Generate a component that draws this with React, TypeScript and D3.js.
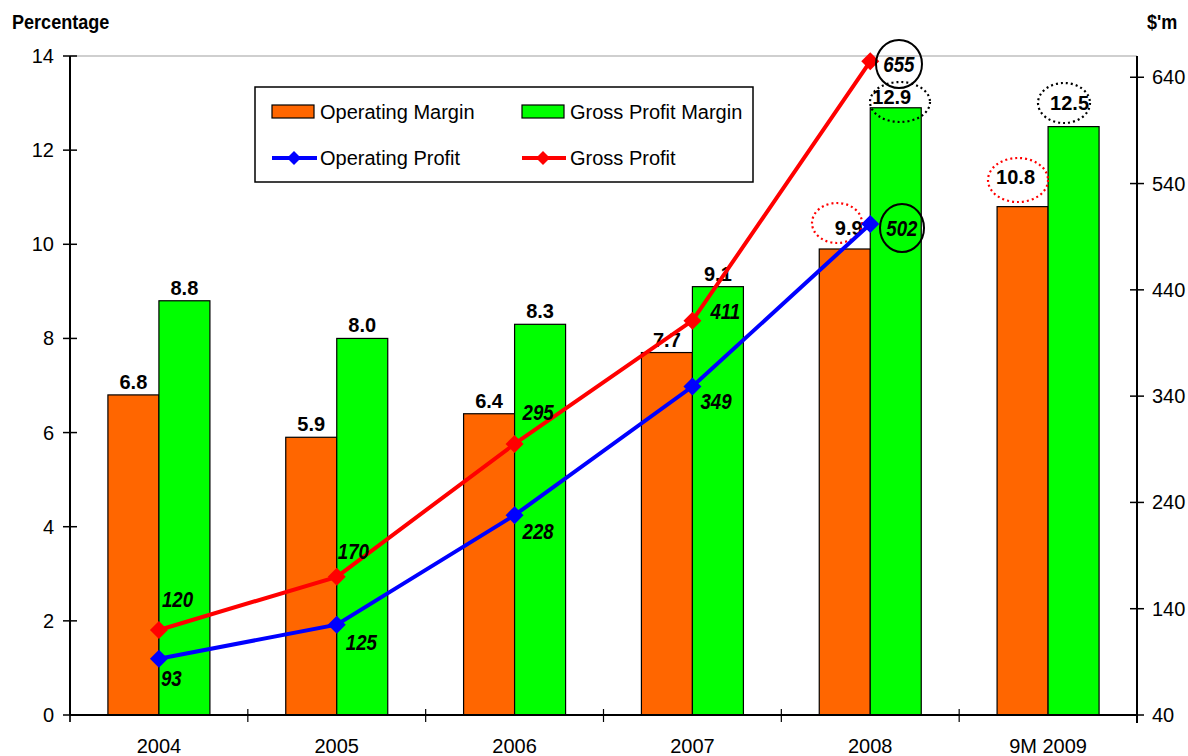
import React from "react";
import * as d3 from "d3";

const categories = ["2004", "2005", "2006", "2007", "2008", "9M 2009"];
const operatingMargin = [6.8, 5.9, 6.4, 7.7, 9.9, 10.8];
const grossProfitMargin = [8.8, 8.0, 8.3, 9.1, 12.9, 12.5];
const operatingProfit = [93, 125, 228, 349, 502];
const grossProfit = [120, 170, 295, 411, 655];
const leftTicks = [0, 2, 4, 6, 8, 10, 12, 14];
const rightTicks = [40, 140, 240, 340, 440, 540, 640];

// label offsets (dx, dy) relative to point
const gpLabelOff = [[3, -23], [1, -18], [8, -24], [18, -2], [13, 11]];
const opLabelOff = [[2, 27], [9, 25], [8, 24], [8, 22], [16, 12]];

const W = 1188, H = 756;
const X0 = 70, X1 = 1137, Y0 = 715, Y1 = 56;
const FONT = "'Liberation Sans', Arial, Helvetica, sans-serif";

function CText(props: { x: number; y: number; sx?: number; children: any; [k: string]: any }) {
  const { x, y, sx = 1, children, ...rest } = props;
  return (
    <text transform={`translate(${x},${y}) scale(${sx},1)`} {...rest}>{children}</text>
  );
}

export default function App() {
  const x = d3.scaleBand<string>().domain(categories).range([X0, X1]).paddingInner(0).paddingOuter(0);
  const yL = d3.scaleLinear().domain([0, 14]).range([Y0, Y1]);
  const yR = d3.scaleLinear().domain([40, 660]).range([Y0, Y1]);
  const bw = 51;
  const cx = (i: number) => (x(categories[i]) as number) + x.bandwidth() / 2;

  const line = d3.line<number>().x((_, i) => cx(i)).y((d) => yR(d));
  const diamond = (px: number, py: number, r = 9) =>
    `M${px},${py - r}L${px + r},${py}L${px},${py + r}L${px - r},${py}Z`;

  const gpmLabelY = (i: number) => {
    if (i === 4) return yL(grossProfitMargin[i]) - 4;
    if (i === 5) return yL(grossProfitMargin[i]) - 17;
    return yL(grossProfitMargin[i]) - 6;
  };
  const omLabelY = (i: number) => {
    if (i === 4) return yL(operatingMargin[i]) - 14;
    if (i === 5) return yL(operatingMargin[i]) - 23;
    return yL(operatingMargin[i]) - 6;
  };
  const omLabelX = (i: number) => {
    const base = cx(i) - bw / 2;
    if (i === 4) return base + 4;
    if (i === 5) return base - 7;
    return base;
  };

  return (
    <svg width={W} height={H} style={{ display: "block", position: "absolute", left: 0, top: 0 }} fontFamily={FONT}>
      <rect x={0} y={0} width={W} height={H} fill="#fff" />
      <line x1={X0} x2={X1} y1={Y1} y2={Y1} stroke="#a0a0a0" strokeWidth={1.2} />

      {categories.map((c, i) => (
        <g key={c}>
          <rect x={cx(i) - bw} y={yL(operatingMargin[i])} width={bw} height={Y0 - yL(operatingMargin[i])}
            fill="#FF6600" stroke="#000" strokeWidth={1.2} />
          <rect x={cx(i)} y={yL(grossProfitMargin[i])} width={bw} height={Y0 - yL(grossProfitMargin[i])}
            fill="#00FF00" stroke="#000" strokeWidth={1.2} />
        </g>
      ))}

      {categories.map((c, i) => (
        <g key={"l" + c} fontWeight="bold" fontSize={20} textAnchor="middle" fill="#000">
          <text x={omLabelX(i)} y={omLabelY(i)}>{operatingMargin[i].toFixed(1)}</text>
          <text x={cx(i) + bw / 2 + (i >= 4 ? -4 : 0)} y={gpmLabelY(i)}>{grossProfitMargin[i].toFixed(1)}</text>
        </g>
      ))}

      <ellipse cx={900} cy={102} rx={30} ry={20} fill="none" stroke="#000" strokeWidth={2.2} strokeDasharray="2 3" />
      <ellipse cx={1064} cy={103} rx={26} ry={20} fill="none" stroke="#000" strokeWidth={2.2} strokeDasharray="2 3" />
      <ellipse cx={837} cy={223} rx={25} ry={20} fill="none" stroke="#f00" strokeWidth={2.2} strokeDasharray="2 3" />
      <ellipse cx={1018} cy={180} rx={30} ry={22} fill="none" stroke="#f00" strokeWidth={2.2} strokeDasharray="2 3" />

      <path d={line(operatingProfit) || ""} fill="none" stroke="#0000FF" strokeWidth={4} />
      <path d={line(grossProfit) || ""} fill="none" stroke="#FF0000" strokeWidth={4} />
      {operatingProfit.map((v, i) => (
        <path key={"op" + i} d={diamond(cx(i), yR(v))} fill="#0000FF" />
      ))}
      {grossProfit.map((v, i) => (
        <path key={"gp" + i} d={diamond(cx(i), yR(v))} fill="#FF0000" />
      ))}

      <ellipse cx={899} cy={64} rx={23} ry={24} fill="none" stroke="#000" strokeWidth={2} />
      <ellipse cx={902} cy={228} rx={22} ry={24} fill="none" stroke="#000" strokeWidth={2} />

      <g fontWeight="bold" fontStyle="italic" fontSize={22} fill="#000">
        {grossProfit.map((v, i) => (
          <CText key={"gpl" + i} sx={0.85} x={cx(i) + gpLabelOff[i][0]} y={yR(v) + gpLabelOff[i][1]}>{v}</CText>
        ))}
        {operatingProfit.map((v, i) => (
          <CText key={"opl" + i} sx={0.85} x={cx(i) + opLabelOff[i][0]} y={yR(v) + opLabelOff[i][1]}>{v}</CText>
        ))}
      </g>

      <line x1={X0} x2={X0} y1={Y1} y2={Y0} stroke="#000" strokeWidth={2} />
      <line x1={X1} x2={X1} y1={Y1} y2={Y0 + 8} stroke="#000" strokeWidth={2} />
      <line x1={X0} x2={X1} y1={Y0} y2={Y0} stroke="#000" strokeWidth={2} />
      {leftTicks.map((t) => (
        <g key={"lt" + t}>
          <line x1={X0 - 7} x2={X0 + 7} y1={yL(t)} y2={yL(t)} stroke="#000" strokeWidth={1.5} />
          <text x={54} y={yL(t) + 7} textAnchor="end" fontSize={20} fill="#000">{t}</text>
        </g>
      ))}
      {rightTicks.map((t) => (
        <g key={"rt" + t}>
          <line x1={X1 - 7} x2={X1 + 7} y1={yR(t)} y2={yR(t)} stroke="#000" strokeWidth={1.5} />
          <text x={1152} y={yR(t) + 7} fontSize={20} fill="#000">{t}</text>
        </g>
      ))}
      {categories.map((c, i) => (
        <g key={"xt" + c}>
          <line x1={(x(c) as number)} x2={(x(c) as number)} y1={Y0 - 6} y2={Y0 + 7} stroke="#000" strokeWidth={1.2} />
          <text x={cx(i)} y={753} textAnchor="middle" fontSize={20} fill="#000">{c}</text>
        </g>
      ))}
      <line x1={X0} x2={X0} y1={Y0} y2={Y0 + 7} stroke="#000" strokeWidth={1.2} />

      <CText x={12} y={29} sx={0.86} fontWeight="bold" fontSize={21} fill="#000">Percentage</CText>
      <CText x={1147} y={29} sx={0.86} fontWeight="bold" fontSize={21} fill="#000">$'m</CText>

      <g>
        <rect x={255} y={87} width={498} height={95} fill="#fff" stroke="#000" strokeWidth={1.5} />
        <rect x={272} y={105} width={42} height={13} fill="#FF6600" stroke="#000" strokeWidth={1.2} />
        <text x={320} y={119} fontSize={20} fill="#000">Operating Margin</text>
        <rect x={522} y={105} width={42} height={13} fill="#00FF00" stroke="#000" strokeWidth={1.2} />
        <text x={570} y={119} fontSize={20} fill="#000">Gross Profit Margin</text>
        <line x1={272} x2={317} y1={158} y2={158} stroke="#0000FF" strokeWidth={4} />
        <path d={diamond(294, 158, 7)} fill="#0000FF" />
        <text x={320} y={165} fontSize={20} fill="#000">Operating Profit</text>
        <line x1={522} x2={566} y1={158} y2={158} stroke="#FF0000" strokeWidth={4} />
        <path d={diamond(543, 158, 7)} fill="#FF0000" />
        <text x={570} y={165} fontSize={20} fill="#000">Gross Profit</text>
      </g>
    </svg>
  );
}
